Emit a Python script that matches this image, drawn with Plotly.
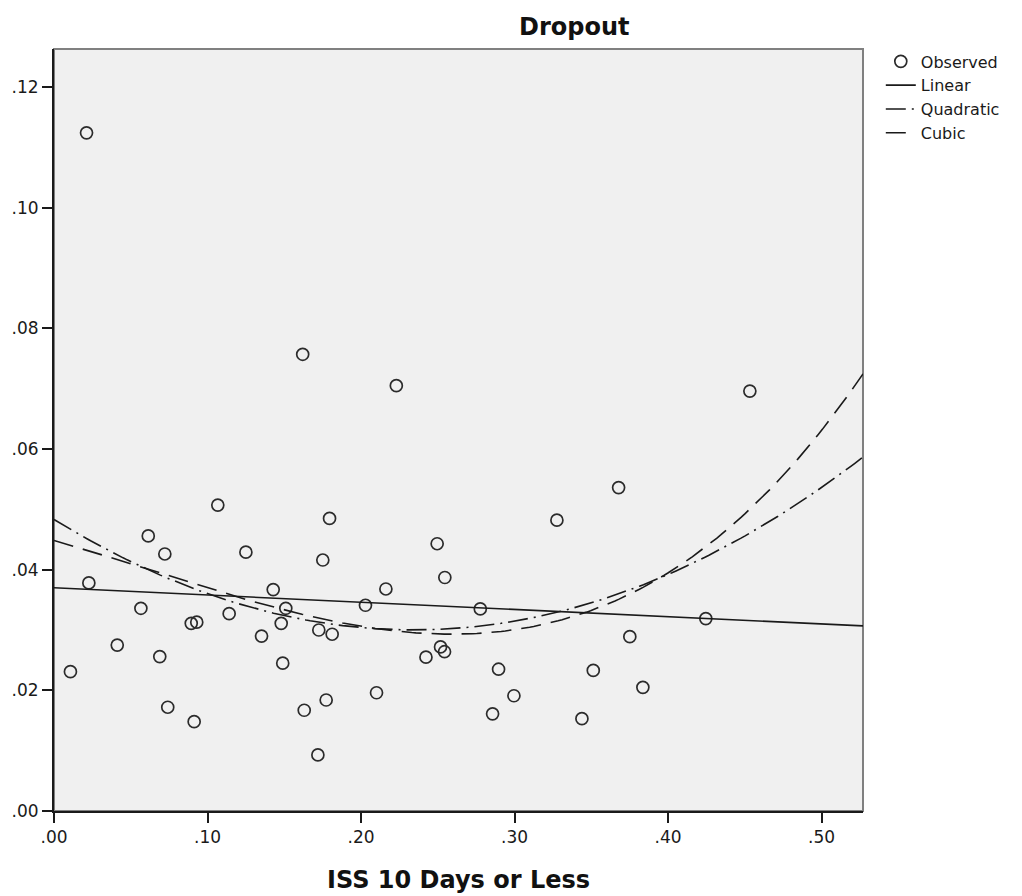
import numpy as np
import plotly.graph_objects as go

# ---- data ----
iss_10_days = [0.0107, 0.0212, 0.0227, 0.0412, 0.0566, 0.0614, 0.0689, 0.0722, 0.0741,
               0.0894, 0.0913, 0.0930, 0.1067, 0.1141, 0.1250, 0.1352, 0.1428, 0.1480,
               0.1490, 0.1510, 0.1620, 0.1630, 0.1719, 0.1725, 0.1751, 0.1773, 0.1795,
               0.1812, 0.2029, 0.2101, 0.2162, 0.2230, 0.2423, 0.2496, 0.2518, 0.2544,
               0.2546, 0.2777, 0.2857, 0.2896, 0.2996, 0.3276, 0.3439, 0.3513, 0.3678,
               0.3751, 0.3836, 0.4246, 0.4533]
dropout = [0.0231, 0.1124, 0.0378, 0.0275, 0.0336, 0.0456, 0.0256, 0.0426, 0.0172,
           0.0311, 0.0148, 0.0313, 0.0507, 0.0327, 0.0429, 0.0290, 0.0367, 0.0311,
           0.0245, 0.0336, 0.0757, 0.0167, 0.0093, 0.0300, 0.0416, 0.0184, 0.0485,
           0.0293, 0.0341, 0.0196, 0.0368, 0.0705, 0.0255, 0.0443, 0.0272, 0.0264,
           0.0387, 0.0335, 0.0161, 0.0235, 0.0191, 0.0482, 0.0153, 0.0233, 0.0536,
           0.0289, 0.0205, 0.0319, 0.0696]

x_tickvals = [0.0, 0.1, 0.2, 0.3, 0.4, 0.5]
x_ticktext = [".00", ".10", ".20", ".30", ".40", ".50"]
y_tickvals = [0.0, 0.02, 0.04, 0.06, 0.08, 0.10, 0.12]
y_ticktext = [".00", ".02", ".04", ".06", ".08", ".10", ".12"]

chart_title = "Dropout"
x_title = "ISS 10 Days or Less"
x_range = [0, 0.527]
y_range = [0, 0.1263]

# ---- curve fits from the observed values ----
xo = np.array(iss_10_days)
yo = np.array(dropout)
xs = np.linspace(x_range[0], x_range[1], 200)
fits = {}
for name, deg in [("Linear", 1), ("Quadratic", 2), ("Cubic", 3)]:
    fits[name] = np.polyval(np.polyfit(xo, yo, deg), xs)

FONT = "DejaVu Sans"
INK = "#1a1a1a"

fig = go.Figure()
fig.add_trace(go.Scatter(
    x=iss_10_days, y=dropout, mode="markers", name="Observed",
    marker=dict(symbol="circle-open", size=12, color="#2b2b2b", line=dict(width=1.7, color="#2b2b2b")),
    cliponaxis=False))
fig.add_trace(go.Scatter(x=xs, y=fits["Linear"], mode="lines", name="Linear",
                         line=dict(color=INK, width=1.6)))
fig.add_trace(go.Scatter(x=xs, y=fits["Quadratic"], mode="lines", name="Quadratic",
                         line=dict(color=INK, width=1.6, dash="20px,6px,2px,6px")))
fig.add_trace(go.Scatter(x=xs, y=fits["Cubic"], mode="lines", name="Cubic",
                         line=dict(color=INK, width=1.6, dash="20px,10px")))

fig.update_layout(
    width=1022, height=896,
    margin=dict(l=53.5, r=159, t=49, b=85),
    paper_bgcolor="white", plot_bgcolor="#f0f0f0",
    font=dict(family=FONT, color=INK, size=17),
    showlegend=True,
    legend=dict(x=1.022, y=1.006, xanchor="left", yanchor="top",
                font=dict(size=16, family=FONT, color=INK),
                bgcolor="rgba(0,0,0,0)", tracegroupgap=0, itemwidth=30),
    xaxis=dict(range=x_range, tickvals=x_tickvals, ticktext=x_ticktext,
               showgrid=False, zeroline=False, showline=True, linecolor=INK, linewidth=2,
               ticks="outside", ticklen=10, tickwidth=2, tickcolor=INK,
               tickfont=dict(size=17, family=FONT, color=INK)),
    yaxis=dict(range=y_range, tickvals=y_tickvals, ticktext=y_ticktext,
               showgrid=False, zeroline=False, showline=True, linecolor=INK, linewidth=2,
               ticks="outside", ticklen=10, tickwidth=2, tickcolor=INK,
               tickfont=dict(size=17, family=FONT, color=INK)),
    shapes=[dict(type="rect", xref="paper", yref="paper", x0=0, y0=0, x1=1, y1=1,
                 line=dict(color="#808080", width=2), fillcolor="rgba(0,0,0,0)", layer="below")],
    annotations=[
        dict(text="<b>" + chart_title + "</b>", xref="paper", yref="paper",
             x=(574 - 53.5) / 809.5, y=1 + (49 - 27) / 762, xanchor="center", yanchor="middle",
             showarrow=False, font=dict(size=24, family=FONT, color="#111111")),
        dict(text="<b>" + x_title + "</b>", xref="paper", yref="paper",
             x=0.5, y=-(880 - 811) / 762, xanchor="center", yanchor="middle",
             showarrow=False, font=dict(size=24, family=FONT, color="#111111")),
    ],
)

fig.write_html("out.html")
